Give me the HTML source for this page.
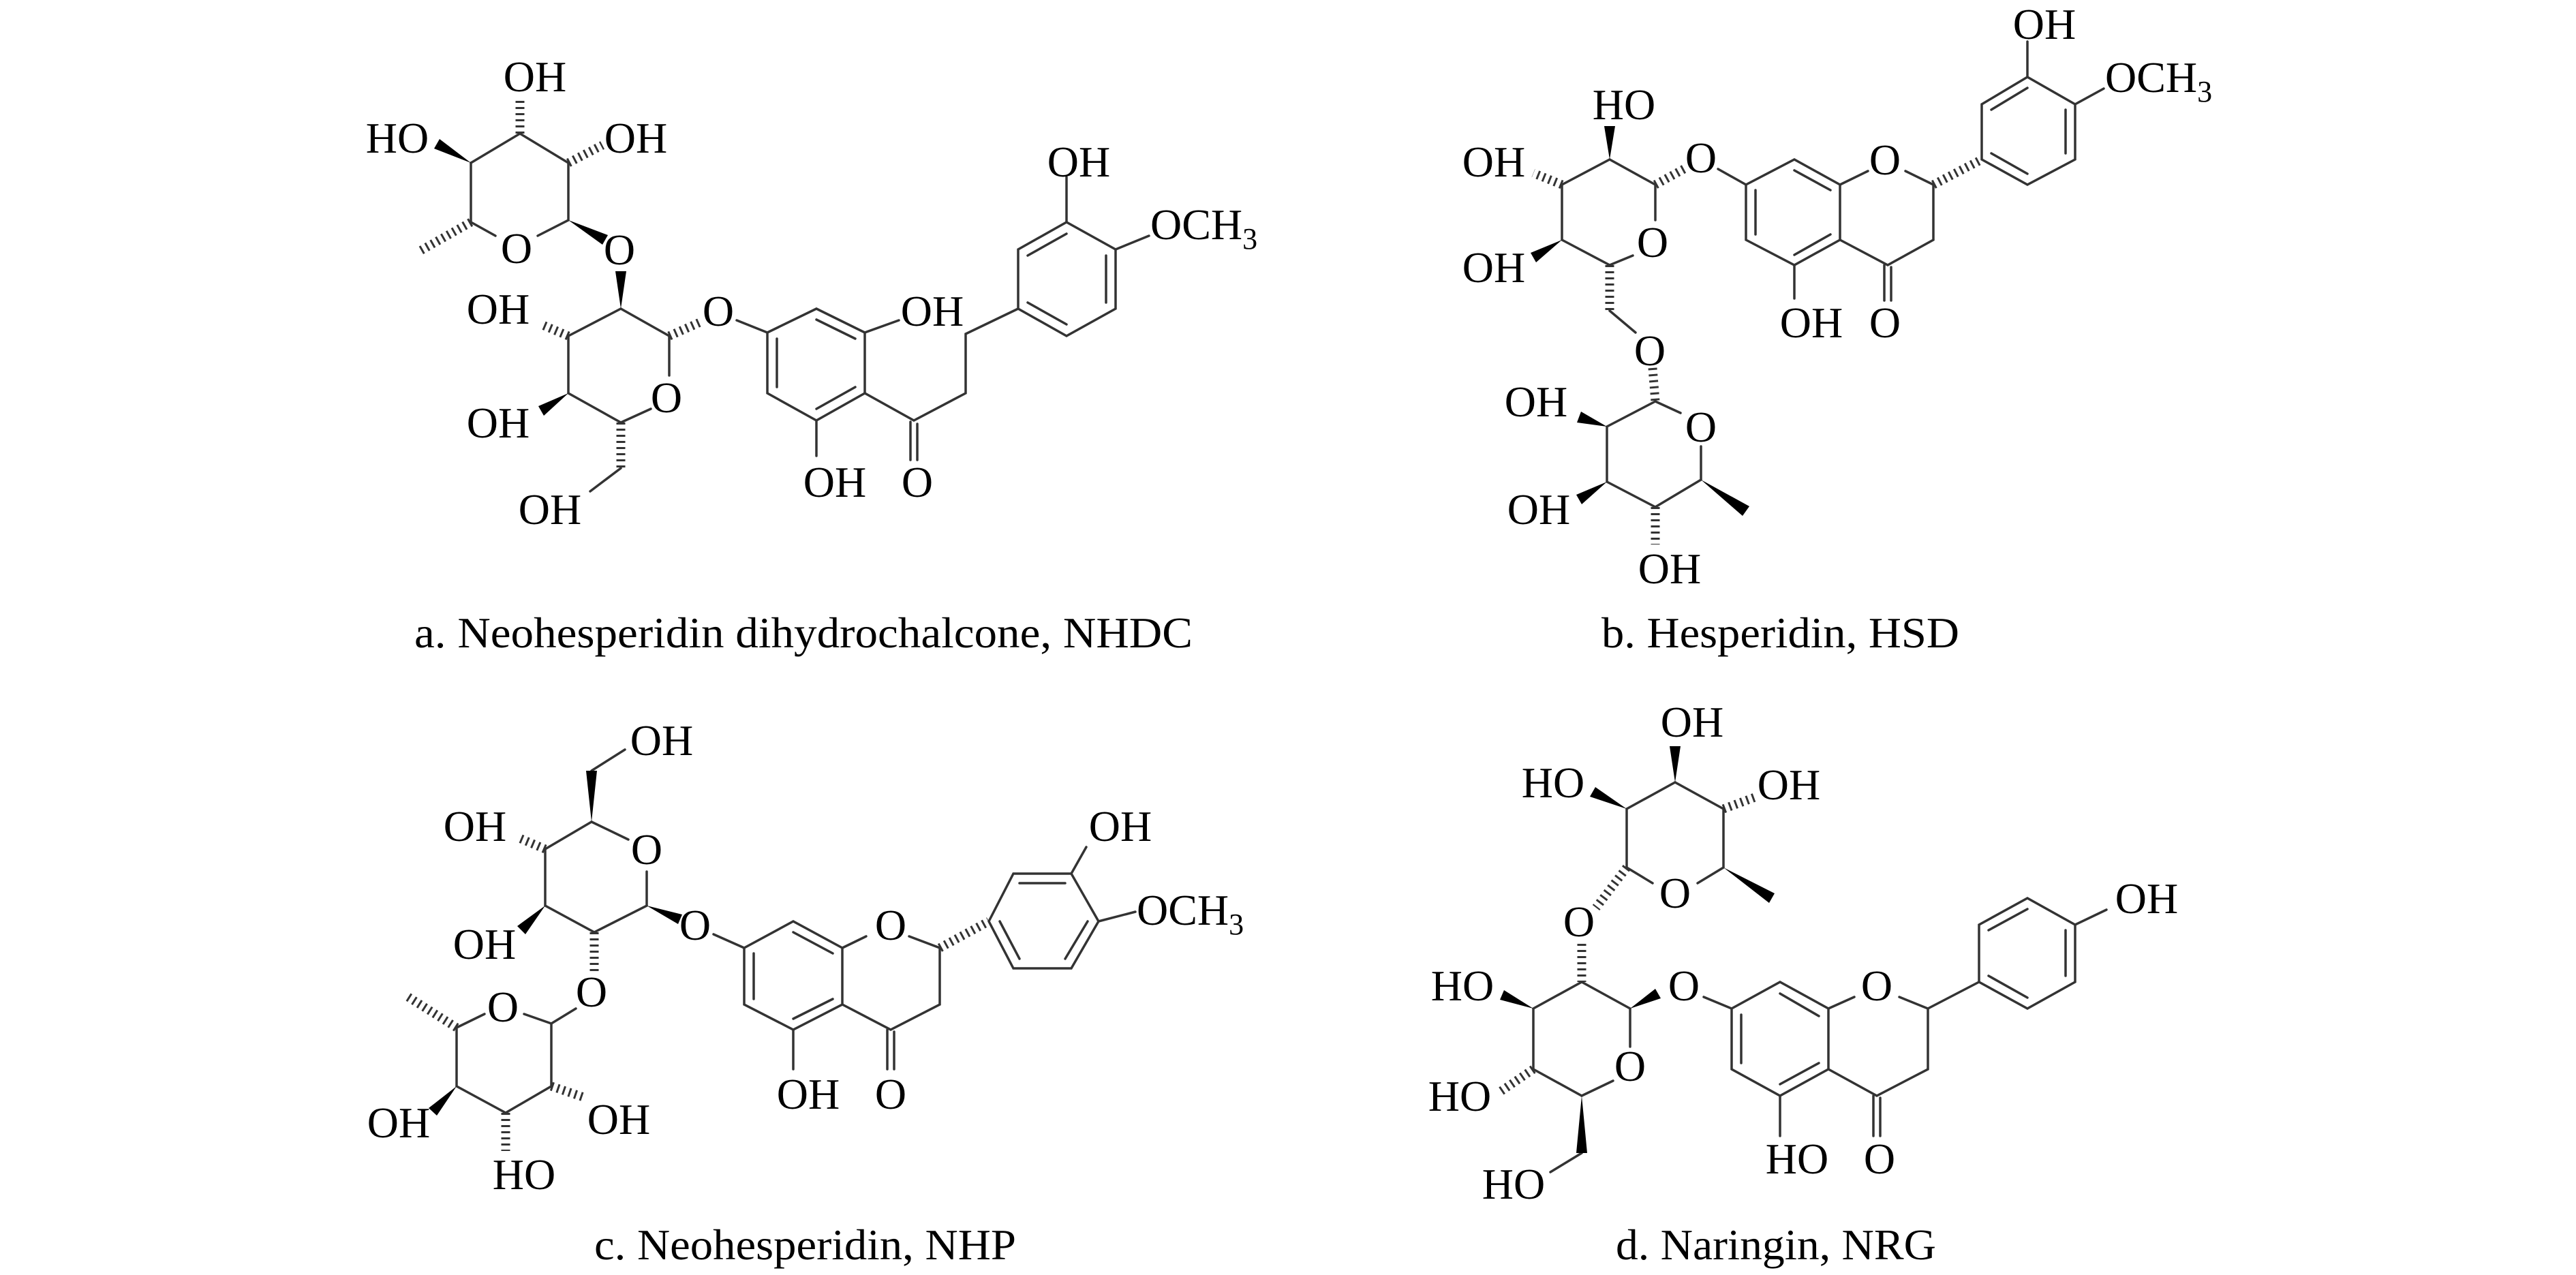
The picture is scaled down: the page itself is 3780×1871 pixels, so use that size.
<!DOCTYPE html>
<html><head><meta charset="utf-8"><style>
html,body{margin:0;padding:0;background:#fff;}
svg{display:block;}
text{font-family:"Liberation Serif",serif;font-size:64px;fill:#000;}
.l text{text-anchor:middle;}
</style></head><body>
<svg width="3780" height="1871" viewBox="0 0 3780 1871" xmlns="http://www.w3.org/2000/svg">
<rect width="3780" height="1871" fill="#fff"/>
<g stroke="#333" stroke-width="3.5" fill="none" stroke-linecap="round">
<!-- ===== a ===== -->
<polyline points="691,239 763,196 834,239 834,323 789,346"/>
<polyline points="727,346 691,326 691,239"/>
<polyline points="834,493 911,453 982,493 982,551"/>
<polyline points="955,600 911,620 834,577 834,493"/>
<line x1="911" y1="687" x2="866" y2="721"/>
<line x1="1081" y1="470" x2="1126" y2="488"/>
<polygon points="1126,488 1198,453 1269,488 1269,577 1198,617 1126,577"/>
<line x1="1140" y1="497" x2="1140" y2="568"/><line x1="1198" y1="469" x2="1255" y2="497"/><line x1="1255" y1="568" x2="1198" y2="600"/>
<line x1="1269" y1="488" x2="1319" y2="470"/><line x1="1198" y1="617" x2="1198" y2="669"/>
<polyline points="1269,577 1341,617 1417,577 1417,490 1494,453"/>
<line x1="1336" y1="619" x2="1336" y2="675"/><line x1="1346" y1="622" x2="1346" y2="675"/>
<polygon points="1494,453 1494,366 1565,326 1637,366 1637,453 1565,493"/>
<line x1="1508" y1="375" x2="1565" y2="343"/><line x1="1623" y1="375" x2="1623" y2="444"/><line x1="1565" y1="476" x2="1508" y2="444"/>
<line x1="1565" y1="326" x2="1565" y2="260"/><line x1="1637" y1="366" x2="1686" y2="346"/>
<!-- ===== b ===== -->
<polygon points="2975,113 3045,153 3045,234 2975,271 2908,234 2908,153"/>
<line x1="2975" y1="129" x2="2922" y2="161"/><line x1="3031" y1="161" x2="3031" y2="225"/><line x1="2975" y1="255" x2="2922" y2="225"/>
<line x1="2975" y1="113" x2="2975" y2="61"/><line x1="3045" y1="153" x2="3087" y2="130"/>
<polyline points="2796,251 2837,271 2837,352 2770,389 2700,352"/>
<line x1="2741" y1="251" x2="2700" y2="271"/>
<line x1="2765" y1="389" x2="2765" y2="441"/><line x1="2775" y1="392" x2="2775" y2="441"/>
<polygon points="2700,271 2633,234 2562,271 2562,352 2633,389 2700,352"/>
<line x1="2686" y1="279" x2="2633" y2="250"/><line x1="2576" y1="279" x2="2576" y2="344"/><line x1="2633" y1="374" x2="2686" y2="344"/>
<line x1="2633" y1="389" x2="2633" y2="438"/><line x1="2562" y1="271" x2="2521" y2="248"/>
<polyline points="2429,323 2429,271 2362,234 2292,271 2292,352 2362,389 2396,375"/>
<line x1="2362" y1="456" x2="2400" y2="488"/>
<line x1="2429" y1="589" x2="2466" y2="606"/>
<polyline points="2496,655 2496,704 2429,744 2358,707 2358,626 2429,589"/>
<!-- ===== c ===== -->
<line x1="868" y1="1131" x2="917" y2="1100"/>
<line x1="868" y1="1206" x2="922" y2="1232"/>
<polyline points="949,1279 949,1329 872,1368 800,1329 800,1246 868,1206"/>
<line x1="845" y1="1480" x2="809" y2="1502"/>
<line x1="809" y1="1502" x2="769" y2="1488"/>
<polyline points="711,1488 670,1508 670,1594 742,1633 809,1594 809,1502"/>
<line x1="1047" y1="1371" x2="1092" y2="1391"/>
<polygon points="1092,1391 1164,1352 1236,1391 1236,1474 1164,1511 1092,1474"/>
<line x1="1164" y1="1368" x2="1222" y2="1399"/><line x1="1106" y1="1399" x2="1106" y2="1466"/><line x1="1164" y1="1495" x2="1222" y2="1466"/>
<line x1="1164" y1="1511" x2="1164" y2="1569"/>
<polyline points="1236,1474 1307,1511 1379,1474 1379,1391 1334,1374"/>
<line x1="1271" y1="1374" x2="1236" y2="1391"/>
<line x1="1302" y1="1511" x2="1302" y2="1569"/><line x1="1312" y1="1514" x2="1312" y2="1569"/>
<polygon points="1451,1352 1487,1282 1572,1282 1612,1352 1572,1421 1487,1421"/>
<line x1="1496" y1="1296" x2="1563" y2="1296"/><line x1="1596" y1="1352" x2="1563" y2="1407"/><line x1="1496" y1="1407" x2="1467" y2="1352"/>
<line x1="1572" y1="1282" x2="1594" y2="1243"/><line x1="1612" y1="1352" x2="1666" y2="1338"/>
<!-- ===== d ===== -->
<polyline points="2491,1296 2529,1273 2529,1187 2458,1148 2387,1187 2387,1273 2425,1296"/>
<polyline points="2392,1536 2392,1480 2321,1441 2250,1480 2250,1569 2321,1608 2367,1586"/>
<line x1="2321" y1="1692" x2="2275" y2="1720"/>
<line x1="2500" y1="1463" x2="2541" y2="1480"/>
<polygon points="2541,1480 2612,1441 2683,1480 2683,1569 2612,1608 2541,1569"/>
<line x1="2612" y1="1458" x2="2669" y2="1491"/><line x1="2555" y1="1489" x2="2555" y2="1560"/><line x1="2612" y1="1591" x2="2669" y2="1560"/>
<line x1="2612" y1="1608" x2="2612" y2="1667"/>
<polyline points="2683,1569 2754,1608 2829,1569 2829,1480 2787,1463"/>
<line x1="2721" y1="1463" x2="2683" y2="1480"/>
<line x1="2749" y1="1608" x2="2749" y2="1667"/><line x1="2759" y1="1611" x2="2759" y2="1667"/>
<line x1="2829" y1="1480" x2="2904" y2="1441"/>
<polygon points="2904,1441 2904,1357 2975,1318 3045,1357 3045,1441 2975,1480"/>
<line x1="2918" y1="1365" x2="2975" y2="1334"/><line x1="3031" y1="1365" x2="3031" y2="1432"/><line x1="2975" y1="1464" x2="2918" y2="1432"/>
<line x1="3045" y1="1357" x2="3091" y2="1335"/>
</g>
<!-- hashed bonds -->
<g stroke="#333" stroke-width="13" stroke-dasharray="3 6" fill="none">
<line x1="763" y1="196" x2="763" y2="147"/>
<line x1="834" y1="239" x2="884" y2="213"/>
<line x1="691" y1="326" x2="615" y2="369"/>
<line x1="834" y1="493" x2="794" y2="476"/>
<line x1="911" y1="620" x2="911" y2="687"/>
<line x1="982" y1="493" x2="1027" y2="473"/>
<line x1="2837" y1="271" x2="2908" y2="234"/>
<line x1="2471" y1="248" x2="2429" y2="271"/>
<line x1="2292" y1="271" x2="2250" y2="254"/>
<line x1="2362" y1="389" x2="2362" y2="456"/>
<line x1="2425" y1="540" x2="2429" y2="589"/>
<line x1="2429" y1="744" x2="2429" y2="799"/>
<line x1="800" y1="1246" x2="760" y2="1229"/>
<line x1="872" y1="1368" x2="872" y2="1427"/>
<line x1="670" y1="1508" x2="599" y2="1463"/>
<line x1="742" y1="1633" x2="742" y2="1689"/>
<line x1="809" y1="1594" x2="859" y2="1611"/>
<line x1="1379" y1="1391" x2="1451" y2="1352"/>
<line x1="2529" y1="1187" x2="2575" y2="1170"/>
<line x1="2387" y1="1273" x2="2342" y2="1332"/>
<line x1="2321" y1="1385" x2="2321" y2="1441"/>
<line x1="2250" y1="1569" x2="2200" y2="1603"/>
</g>
<!-- wedges -->
<g fill="#000" stroke="none">
<polygon points="691,239 645,204 637,218"/>
<polygon points="834,323 884,359 892,345"/>
<polygon points="911,453 903,398 919,398"/>
<polygon points="834,577 790,596 798,610"/>
<polygon points="2362,234 2354,185 2370,185"/>
<polygon points="2292,352 2246,371 2254,385"/>
<polygon points="2358,626 2320,604 2314,620"/>
<polygon points="2358,707 2313,726 2321,740"/>
<polygon points="2496,704 2557,757 2567,743"/>
<polygon points="868,1206 860,1131 876,1131"/>
<polygon points="800,1329 759,1359 771,1371"/>
<polygon points="949,1329 995,1356 1001,1342"/>
<polygon points="670,1594 629,1626 641,1637"/>
<polygon points="2458,1148 2450,1095 2466,1095"/>
<polygon points="2387,1187 2341,1155 2333,1169"/>
<polygon points="2529,1273 2596,1325 2604,1311"/>
<polygon points="2250,1480 2207,1453 2201,1467"/>
<polygon points="2321,1608 2313,1692 2329,1692"/>
<polygon points="2392,1480 2437,1465 2429,1451"/>
</g>
<!-- labels -->
<g class="l">
<text x="785" y="134">OH</text><text x="583" y="224">HO</text><text x="933" y="224">OH</text>
<text x="758" y="386">O</text><text x="909" y="388">O</text><text x="731" y="475">OH</text>
<text x="978" y="605">O</text><text x="731" y="642">OH</text><text x="807" y="769">OH</text>
<text x="1054" y="478">O</text><text x="1368" y="478">OH</text><text x="1225" y="729">OH</text>
<text x="1346" y="729">O</text><text x="1583" y="259">OH</text>

<text x="3000" y="57">OH</text><text x="2766" y="256">O</text><text x="2766" y="495">O</text>
<text x="2658" y="495">OH</text><text x="2496" y="253">O</text><text x="2383" y="175">HO</text>
<text x="2192" y="259">OH</text><text x="2192" y="414">OH</text><text x="2425" y="377">O</text>
<text x="2421" y="536">O</text><text x="2496" y="648">O</text><text x="2254" y="611">OH</text>
<text x="2258" y="769">OH</text><text x="2450" y="856">OH</text>

<text x="971" y="1108">OH</text><text x="697" y="1234">OH</text><text x="949" y="1268">O</text>
<text x="711" y="1407">OH</text><text x="1020" y="1379">O</text><text x="868" y="1477">O</text>
<text x="738" y="1499">O</text><text x="585" y="1669">OH</text><text x="769" y="1745">HO</text>
<text x="908" y="1664">OH</text><text x="1186" y="1627">OH</text><text x="1307" y="1627">O</text>
<text x="1307" y="1379">O</text><text x="1644" y="1234">OH</text>

<text x="2483" y="1081">OH</text><text x="2625" y="1173">OH</text><text x="2279" y="1170">HO</text>
<text x="2458" y="1332">O</text><text x="2317" y="1374">O</text><text x="2146" y="1468">HO</text>
<text x="2142" y="1630">HO</text><text x="2221" y="1759">HO</text><text x="2392" y="1586">O</text>
<text x="2471" y="1468">O</text><text x="2637" y="1722">HO</text><text x="2758" y="1722">O</text>
<text x="2754" y="1468">O</text><text x="3150" y="1340">OH</text>
</g>
<text x="1688" y="351">OCH<tspan font-size="44" dy="14">3</tspan></text>
<text x="3089" y="135">OCH<tspan font-size="44" dy="14">3</tspan></text>
<text x="1668" y="1357">OCH<tspan font-size="44" dy="14">3</tspan></text>
<!-- captions -->
<text x="608" y="950" textLength="1142" lengthAdjust="spacingAndGlyphs">a. Neohesperidin dihydrochalcone, NHDC</text>
<text x="2350" y="950" textLength="525" lengthAdjust="spacingAndGlyphs">b. Hesperidin, HSD</text>
<text x="872" y="1848" textLength="619" lengthAdjust="spacingAndGlyphs">c. Neohesperidin, NHP</text>
<text x="2371" y="1848" textLength="470" lengthAdjust="spacingAndGlyphs">d. Naringin, NRG</text>
</svg>
</body></html>
